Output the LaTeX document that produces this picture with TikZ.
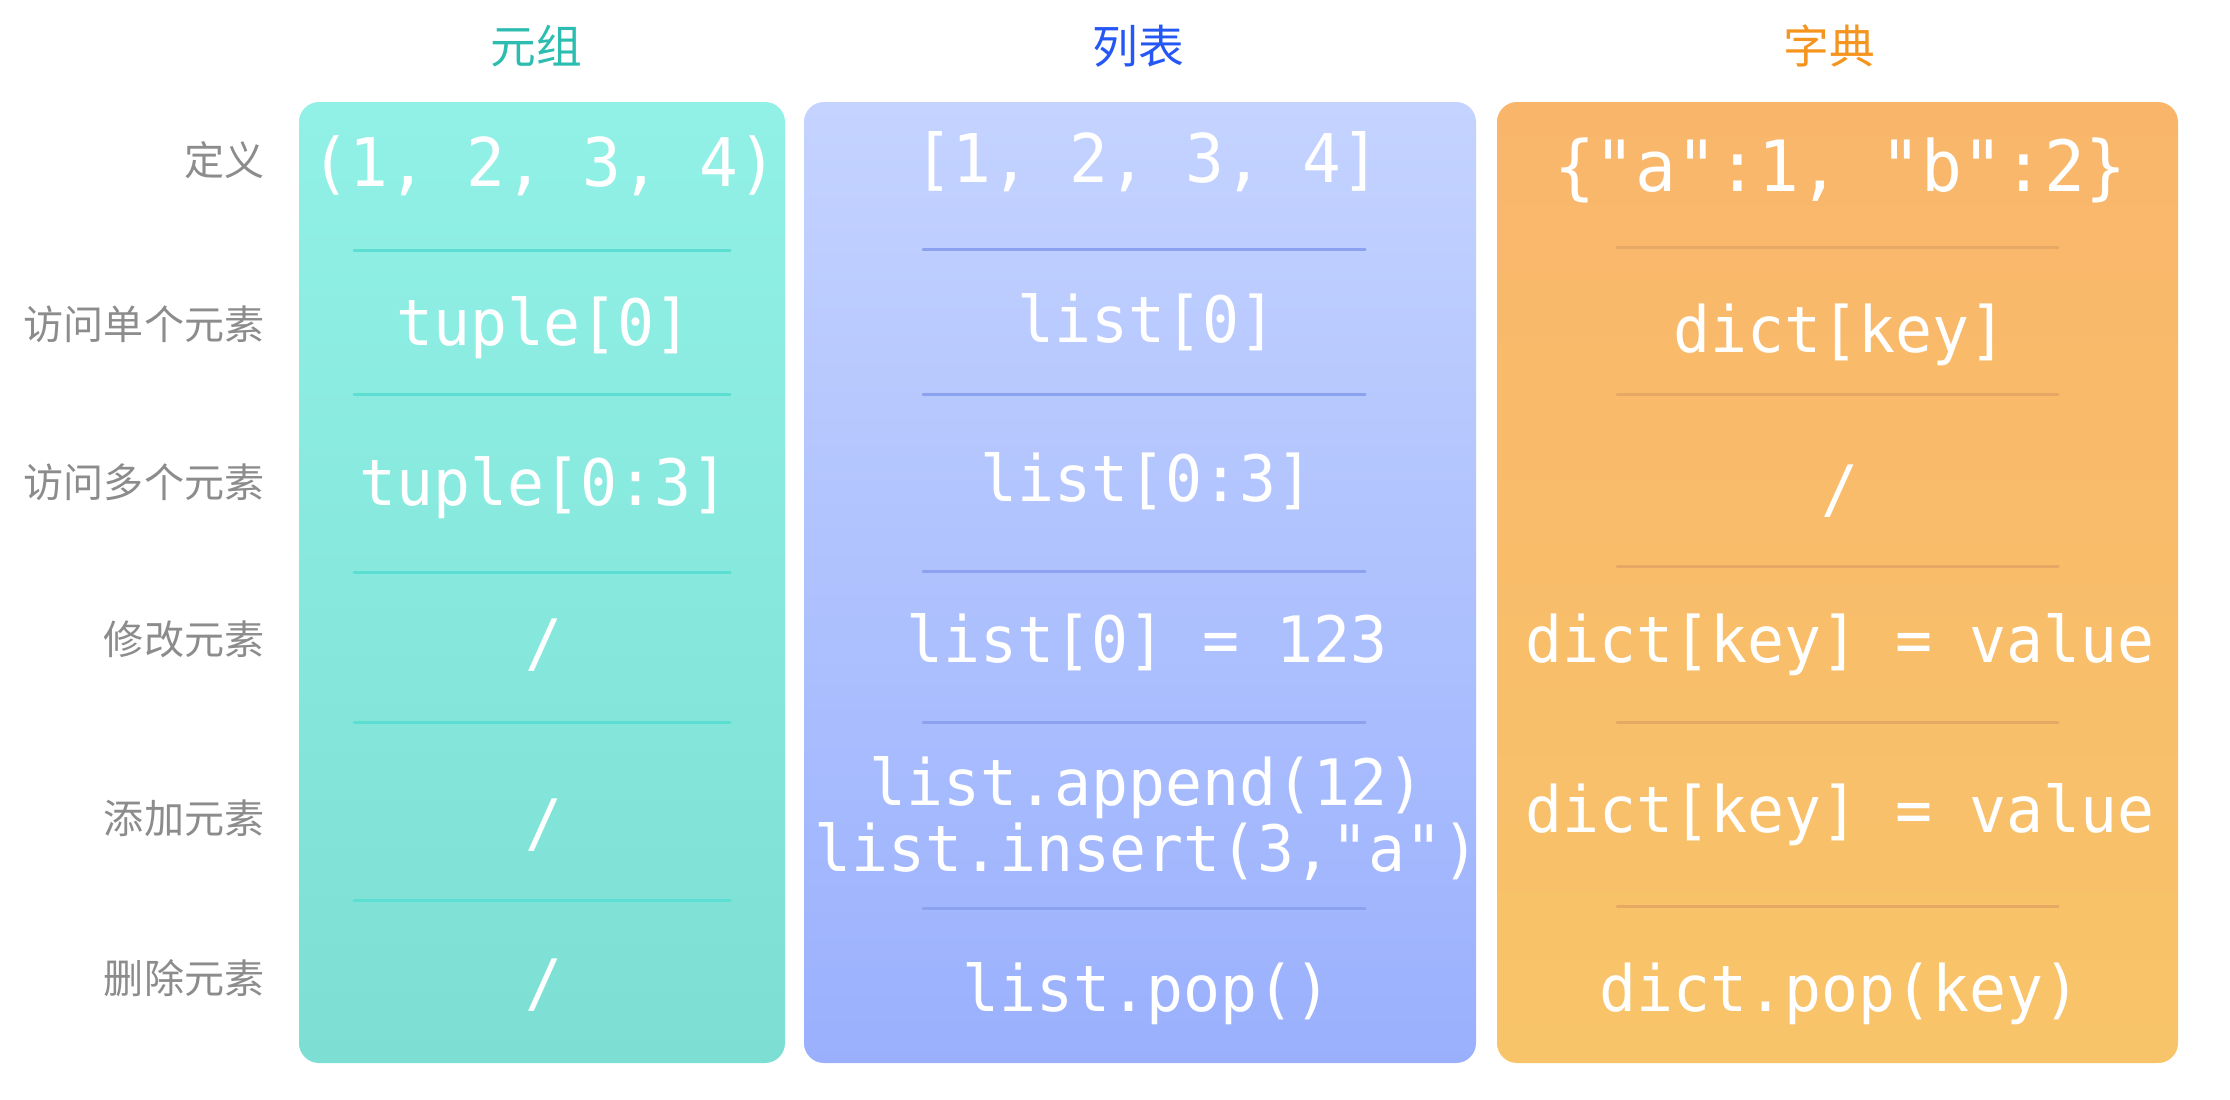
\documentclass[tikz,border=0pt]{standalone}
\usepackage{fontspec}
\newfontfamily\codefont[FakeStretch=0.96]{DejaVu Sans Mono}
\newfontfamily\cjk{Noto Sans CJK SC}
\definecolor{tupA}{HTML}{91F1E7}
\definecolor{tupB}{HTML}{7DDFD3}
\definecolor{tupLine}{HTML}{5CDED2}
\definecolor{tupHead}{HTML}{2DBDB0}
\definecolor{lstA}{HTML}{C4D3FF}
\definecolor{lstB}{HTML}{9AB0FD}
\definecolor{lstLine}{HTML}{8DA2EE}
\definecolor{lstHead}{HTML}{2557F5}
\definecolor{dicA}{HTML}{F9B66B}
\definecolor{dicB}{HTML}{F8C469}
\definecolor{dicLine}{HTML}{E6A865}
\definecolor{dicHead}{HTML}{F5951F}
\definecolor{labgray}{HTML}{8C8C8C}
\begin{document}
\begin{tikzpicture}[x=0.01cm, y=-0.01cm, line cap=round,
	lab/.style={font=\cjk\fontsize{11.4}{13}\selectfont, text=labgray, anchor=east, inner sep=0pt},
	head/.style={font=\cjk\fontsize{13}{15}\selectfont, inner sep=0pt},
	code/.style={font=\codefont\fontsize{18.2}{17}\selectfont, text=white, inner sep=0pt, anchor=base, align=center},
	bigcode/.style={code, font=\codefont\fontsize{#1}{20}\selectfont},
	slash/.style={font=\codefont\fontsize{18.2}{17}\selectfont, text=white, inner sep=0pt},
	col/.style={rounded corners=0.2cm}]
	\useasboundingbox (0,0) rectangle (2230,1100);
	\def\xt{544}
	\def\xl{1147}
	\def\xd{1840}
	% columns
	\path[col, top color=tupA, bottom color=tupB] (299,102) rectangle (785,1063);
	\path[col, top color=lstA, bottom color=lstB] (804,102) rectangle (1476,1063);
	\path[col, top color=dicA, bottom color=dicB] (1497,102) rectangle (2178,1063);
	% dividers
	\foreach \y in {250,394,572,722,900} \draw[tupLine, line width=0.03cm] (354,\y)--(730,\y);
	\foreach \y in {249,394,571,722,908} \draw[lstLine, line width=0.03cm] (923,\y)--(1365,\y);
	\foreach \y in {247,394,566,722,906} \draw[dicLine, line width=0.03cm] (1617,\y)--(2058,\y);
	% headers
	\node[head, text=tupHead] (htup) at (536,46) {元组};
	\node[head, text=lstHead] (hlst) at (1138,46) {列表};
	\node[head, text=dicHead] (hdic) at (1829,46) {字典};
	% row labels
	\node[lab] (rdef) at (265,160) {定义};
	\node[lab] (rone) at (265,324) {访问单个元素};
	\node[lab] (rmany) at (265,482) {访问多个元素};
	\node[lab] (rmod) at (265,639) {修改元素};
	\node[lab] (radd) at (265,818) {添加元素};
	\node[lab] (rdel) at (265,978) {删除元素};
	% tuple
	\node[bigcode=19.1] (tdef) at (\xt,186) {(1, 2, 3, 4)};
	\node[code] (tone) at (\xt,345) {tuple[0]};
	\node[code] (tmany) at (\xt,505) {tuple[0:3]};
	\node[slash] (tmod) at (\xt,645) {/};
	\node[slash] (tadd) at (\xt,825) {/};
	\node[slash] (tdel) at (\xt,985) {/};
	% list
	\node[bigcode=19.1] (ldef) at (\xl,182) {[1, 2, 3, 4]};
	\node[code] (lone) at (\xl,342) {list[0]};
	\node[code] (lmany) at (\xl,501) {list[0:3]};
	\node[code] (lmod) at (\xl,662) {list[0] = 123};
	\node[code] (ladd) at (\xl,871) {list.append(12)\\list.insert(3,"a")};
	\node[code] (ldel) at (\xl,1011) {list.pop()};
	% dict
	\node[bigcode=20.1] (ddef) at (\xd,191) {\{"a":1, "b":2\}};
	\node[code] (done) at (\xd,352) {dict[key]};
	\node[slash] (dmany) at (\xd,491) {/};
	\node[code] (dmod) at (\xd,662) {dict[key] = value};
	\node[code] (dadd) at (\xd,832) {dict[key] = value};
	\node[code] (ddel) at (\xd,1011) {dict.pop(key)};
\end{tikzpicture}
\end{document}
